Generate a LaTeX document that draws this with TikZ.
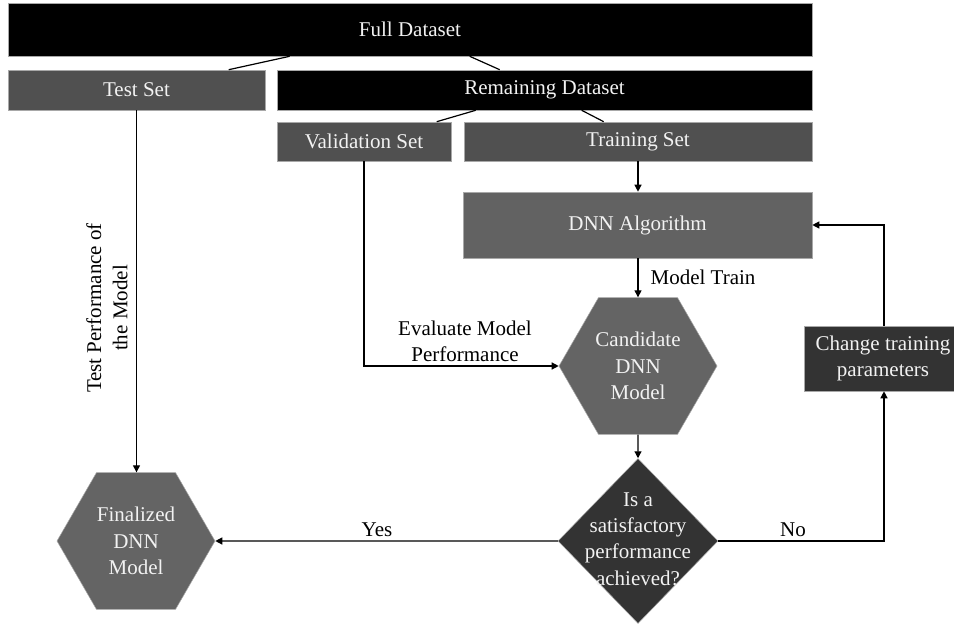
\documentclass[tikz,border=0pt]{standalone}
\usepackage{fontspec}
\setmainfont{Liberation Serif}
\usetikzlibrary{shapes.geometric,arrows.meta,calc}
\definecolor{boxblack}{HTML}{000000}
\definecolor{boxgray}{HTML}{505050}
\definecolor{algogray}{HTML}{626262}
\definecolor{hexgray}{HTML}{646464}
\definecolor{darkbox}{HTML}{333333}
\definecolor{edgegray}{HTML}{A8A8A8}
\definecolor{txtwhite}{HTML}{F2F2F2}
\tikzset{
  basefont/.style={font=\fontsize{21}{26.3}\selectfont},
  rectbox/.style={basefont, rectangle, inner sep=0pt, draw=edgegray, line width=0.6pt, text=txtwhite, align=center},
  hexbox/.style={basefont, regular polygon, regular polygon sides=6, minimum size=158pt, inner sep=0pt, fill=hexgray, draw=edgegray, line width=0.5pt, text=txtwhite, align=center},
  decbox/.style={diamond, minimum width=160pt, minimum height=165pt, inner sep=0pt, fill=darkbox, draw=edgegray, line width=0.5pt},
  lbl/.style={basefont, text=black, align=center, inner sep=0pt},
  conn/.style={line width=1.2pt, draw=black},
  arr/.style={conn, -{Triangle[length=7pt,width=7pt]}}
}
\begin{document}
\begin{tikzpicture}[x=1pt,y=-1pt]
\useasboundingbox (0,0) rectangle (954,627);
\fill[white] (0,0) rectangle (954,627);

\node[rectbox, fill=boxblack, minimum width=804pt, minimum height=53pt] (full) at (410,29.5) {Full Dataset};
\node[rectbox, fill=boxgray, minimum width=257pt, minimum height=40pt] (test) at (136.5,90) {Test Set};
\node[rectbox, fill=boxblack, minimum width=535pt, minimum height=40pt] (rem) at (544.5,90) {Remaining Dataset};
\node[rectbox, fill=boxgray, minimum width=174pt, minimum height=39pt] (val) at (364,141.5) {Validation Set};
\node[rectbox, fill=boxgray, minimum width=348pt, minimum height=39pt] (train) at (638,141.5) {Training Set};
\node[rectbox, fill=algogray, minimum width=349pt, minimum height=66pt] (dnn) at (637.5,225) {DNN Algorithm};
\node[hexbox] (cand) at (638,366) {Candidate\\DNN\\Model};
\node[decbox] (dec) at (638,541) {};
\node[lbl, text=txtwhite] (dectxt) at ([yshift=2pt]dec.center) {Is a\\satisfactory\\performance\\achieved?};
\node[hexbox] (fin) at (136,541) {Finalized\\DNN\\Model};
\node[rectbox, fill=darkbox, minimum width=150pt, minimum height=65pt] (chg) at (879,358.5) {\hspace*{8pt}Change training\\\hspace*{8pt}parameters};

% split lines
\draw[conn] ([xshift=282pt]full.south west) -- ([xshift=221pt]test.north west);
\draw[conn] ([xshift=462pt]full.south west) -- ([xshift=223pt]rem.north west);
\draw[conn] ([xshift=199pt]rem.south west) -- ([xshift=160pt]val.north west);
\draw[conn] ([xshift=305pt]rem.south west) -- ([xshift=140pt]train.north west);

% flow
\draw[arr] (test.south) -- (test.south |- fin.north);
\draw[arr] (val.south) |- (cand.west);
\draw[arr] (train.south) -- (train.south |- dnn.north);
\draw[arr] (dnn.south -| cand.north) -- (cand.north);
\draw[arr] (cand.south) -- (dec.north);
\draw[arr] (dec.west) -- (fin.east);
\draw[arr] (dec.east) -| ([xshift=5pt]chg.south);
\draw[arr] ([xshift=5pt]chg.north) |- (dnn.east);

% labels
\node[lbl, rotate=90] (testlbl) at (107,308) {Test Performance of\\the Model};
\node[lbl] (evallbl) at (465,341) {Evaluate Model\\Performance};
\node[lbl] (trainlbl) at (703,277) {Model Train};
\node[lbl] (yeslbl) at (377,530) {Yes};
\node[lbl] (nolbl) at (793,530) {No};
\end{tikzpicture}
\end{document}
